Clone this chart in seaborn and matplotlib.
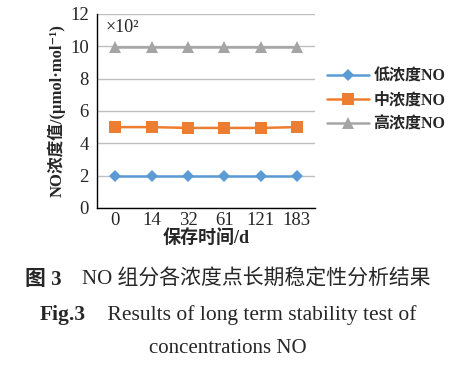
import matplotlib
matplotlib.use('Agg')
import matplotlib.pyplot as plt
import seaborn as sns
import pandas as pd

# data (x10^2 umol/mol)
days = ['0', '14', '32', '61', '121', '183']
low = [2.0, 2.0, 2.0, 2.0, 2.0, 2.0]
mid = [5.0, 5.0, 4.95, 4.95, 4.95, 5.0]
high = [9.95, 9.95, 9.95, 9.95, 9.95, 9.95]
series_names = ['低浓度NO', '中浓度NO', '高浓度NO']
colors = ['#5b9bd5', '#ed7d31', '#a5a5a5']
markers = ['D', 's', '^']
msizes = [6, 8, 8]

df = pd.DataFrame({'day': days * 3,
                   'value': low + mid + high,
                   'series': [s for s in series_names for _ in days]})

sns.set_style('white')
fam = ['Liberation Serif', 'Noto Sans CJK SC', 'DejaVu Serif']
plt.rcParams['font.family'] = fam
plt.rcParams['axes.unicode_minus'] = False

fig = plt.figure(figsize=(4.56, 3.68), dpi=100)
ax = fig.add_axes([0.213, 0.435, 0.478, 0.527])

for name, c, m, ms in zip(series_names, colors, markers, msizes):
    sub = df[df['series'] == name]
    sns.lineplot(data=sub, x='day', y='value', ax=ax, color=c, marker=m,
                 markersize=ms, markeredgewidth=0, linewidth=1.8,
                 label=name, sort=False)

ax.set_xlim(-0.5, 5.5)
ax.set_ylim(0, 12)
ax.set_yticks(range(0, 13, 2))
ax.yaxis.grid(True, color='#bfbfbf', linewidth=1)
ax.set_axisbelow(True)
for s in ['top', 'right']:
    ax.spines[s].set_visible(False)
for s in ['left', 'bottom']:
    ax.spines[s].set_color('black')
    ax.spines[s].set_linewidth(1)
ax.tick_params(axis='x', direction='in', length=3, width=0.8, color='black', labelsize=13.5, pad=3)
ax.tick_params(axis='y', length=0, labelsize=13.5, pad=6)
ax.set_xlabel('保存时间/d', fontsize=13, labelpad=0, fontweight='bold')
ax.set_ylabel('NO浓度值/(μmol·mol⁻¹)', fontsize=12, labelpad=3, fontweight='bold')
ax.text(0.04, 0.975, '×10²', transform=ax.transAxes, fontsize=13, va='top')

leg = ax.legend(loc='center left', bbox_to_anchor=(0.99, 0.555), frameon=False,
                prop={'size': 11.5, 'weight': 'bold', 'family': fam},
                handlelength=2.6, labelspacing=0.5, handletextpad=0.3)

# caption, pieces drawn one after another and centred as a line
def caption_line(pieces, y):
    fig.canvas.draw()
    r = fig.canvas.get_renderer()
    texts = [fig.text(0, y, s, va='center', **kw) for s, kw in pieces]
    widths = [t.get_window_extent(r).width for t in texts]
    W = fig.bbox.width
    x = (W - sum(widths)) / 2
    for t, w in zip(texts, widths):
        t.set_x(x / W)
        x += w

caption_line([('图 3', dict(fontsize=15, fontweight='bold')),
              ('    NO 组分各浓度点长期稳定性分析结果', dict(fontsize=15))], 0.24)
caption_line([('Fig.3', dict(fontsize=15.5, fontweight='bold')),
              ('    Results of long term stability test of', dict(fontsize=15.5))], 0.143)
fig.text(0.5, 0.052, 'concentrations NO', ha='center', va='center', fontsize=15)

fig.savefig('out.png', dpi=100)
